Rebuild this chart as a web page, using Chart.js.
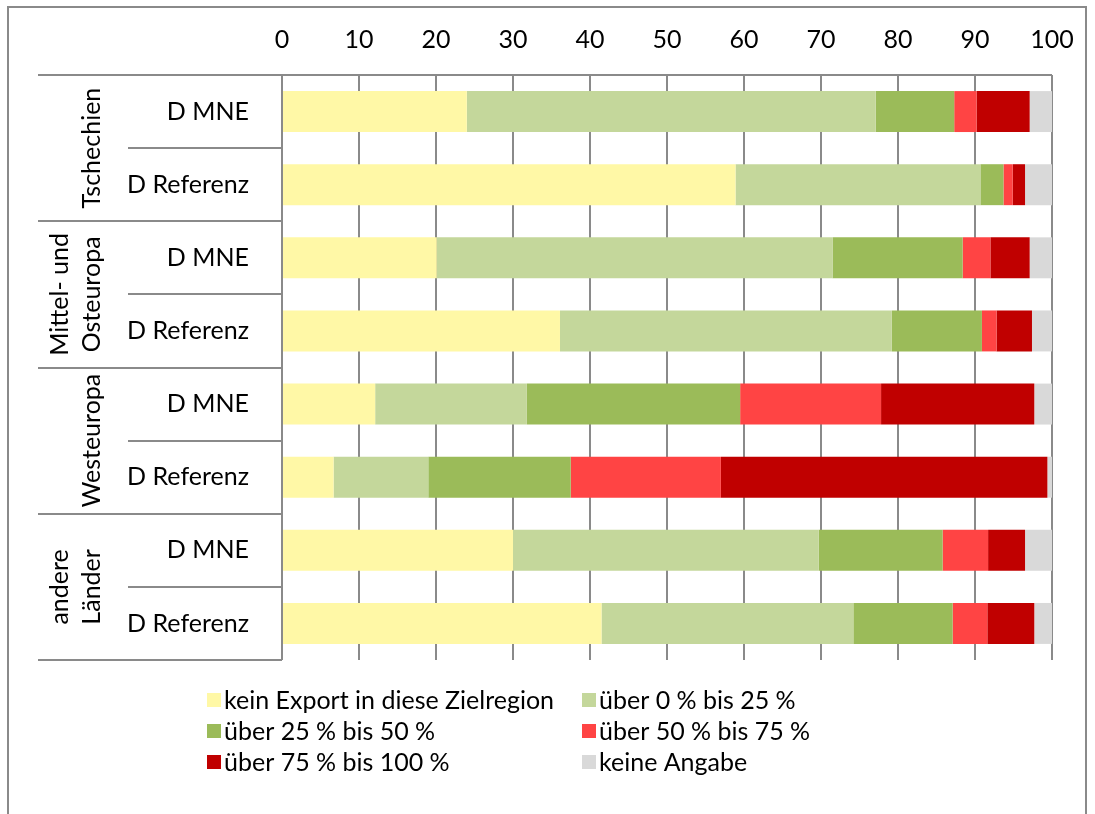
<!DOCTYPE html>
<html>
<head>
<meta charset="utf-8">
<script src="https://cdn.jsdelivr.net/npm/chart.js@4.4.1/dist/chart.umd.min.js"></script>
<style>
  html, body { margin: 0; padding: 0; background: #fff; }
  #wrap { position: relative; width: 1095px; height: 814px; overflow: hidden; }
  #frame { position: absolute; left: 7px; top: 6px; width: 1080px; height: 900px; border: 2px solid #8a8a8a; box-sizing: border-box; }
  canvas { position: absolute; left: 0; top: 0; }
</style>
</head>
<body>
<div id="wrap">
  <div id="frame"></div>
  <canvas id="chart" width="1095" height="814"></canvas>
</div>
<script>
// categories (inner level) and their groups (outer level)
const categories = ['D MNE', 'D Referenz', 'D MNE', 'D Referenz', 'D MNE', 'D Referenz', 'D MNE', 'D Referenz'];
const groups = [['Tschechien'], ['Mittel- und', 'Osteuropa'], ['Westeuropa'], ['andere', 'Länder']];
const xTicks = [0, 10, 20, 30, 40, 50, 60, 70, 80, 90, 100];

// shares in % per answer class
const keinExport = [24.0, 58.9, 20.1, 36.1, 12.1, 6.7, 30.0, 41.5];
const bis25 = [53.1, 31.8, 51.4, 43.1, 19.7, 12.3, 39.7, 32.7];
const bis50 = [10.2, 3.0, 16.9, 11.7, 27.7, 18.5, 16.1, 12.9];
const bis75 = [2.9, 1.2, 3.6, 1.9, 18.3, 19.5, 5.9, 4.5];
const bis100 = [6.9, 1.6, 5.1, 4.6, 19.9, 42.4, 4.8, 6.1];
const keineAngabe = [2.9, 3.5, 2.9, 2.6, 2.3, 0.6, 3.5, 2.3];

const seriesLabels = ['kein Export in diese Zielregion', 'über 0 % bis 25 %', 'über 25 % bis 50 %',
  'über 50 % bis 75 %', 'über 75 % bis 100 %', 'keine Angabe'];
const seriesData = [keinExport, bis25, bis50, bis75, bis100, keineAngabe];
const seriesColors = ['#FFF8A6', '#C4D79B', '#9BBB59', '#FF4444', '#C00000', '#D9D9D9'];

const FONT = 'Lato, "Open Sans", sans-serif';
const FONT_SIZE = 25;
const AXIS_GRAY = '#8a8a8a';

// multi-level category labels, separator lines and axis ticks on the left
const categoryLabels = {
  id: 'categoryLabels',
  afterDraw(chart) {
    const { ctx, chartArea, scales: { y } } = chart;
    const step = y.getPixelForValue(1) - y.getPixelForValue(0);
    const top = chartArea.top, bottom = chartArea.bottom, left = chartArea.left;
    ctx.save();
    ctx.strokeStyle = AXIS_GRAY;
    ctx.lineWidth = 2;
    // boundaries between categories
    for (let i = 0; i <= categories.length; i++) {
      const yy = Math.round(top + i * step);
      const x0 = (i % 2 === 0) ? 38 : 128;
      ctx.beginPath();
      ctx.moveTo(x0, yy);
      ctx.lineTo(left, yy);
      ctx.stroke();
    }
    // top axis line to the right end
    ctx.beginPath();
    ctx.moveTo(left, Math.round(top));
    ctx.lineTo(chartArea.right, Math.round(top));
    ctx.stroke();
    // vertical axis line
    ctx.beginPath();
    ctx.moveTo(left, top);
    ctx.lineTo(left, bottom);
    ctx.stroke();

    ctx.fillStyle = '#000';
    ctx.font = `${FONT_SIZE}px ${FONT}`;
    ctx.textAlign = 'right';
    ctx.textBaseline = 'middle';
    categories.forEach((c, i) => {
      ctx.fillText(c, 249, y.getPixelForValue(i));
    });

    // rotated group labels
    ctx.textAlign = 'center';
    groups.forEach((lines, g) => {
      const cy = (y.getPixelForValue(2 * g) + y.getPixelForValue(2 * g + 1)) / 2;
      lines.forEach((line, k) => {
        const cx = 92 - (lines.length - 1 - k) * 32;
        ctx.save();
        ctx.translate(cx, cy);
        ctx.rotate(-Math.PI / 2);
        ctx.fillText(line, 0, 0);
        ctx.restore();
      });
    });
    ctx.restore();
  }
};

// two-column legend below the plot
const gridLegend = {
  id: 'gridLegend',
  afterDraw(chart) {
    const { ctx } = chart;
    const colX = [207, 582];
    const rowY = [700, 731, 762];
    ctx.save();
    ctx.font = `${FONT_SIZE}px ${FONT}`;
    ctx.textAlign = 'left';
    ctx.textBaseline = 'middle';
    chart.data.datasets.forEach((ds, i) => {
      const x = colX[i % 2], yy = rowY[Math.floor(i / 2)];
      ctx.fillStyle = ds.backgroundColor;
      ctx.fillRect(x, yy - 7, 14, 14);
      ctx.fillStyle = '#000';
      ctx.fillText(ds.label, x + 17, yy + 1);
    });
    ctx.restore();
  }
};

new Chart(document.getElementById('chart'), {
  type: 'bar',
  data: {
    labels: categories,
    datasets: seriesLabels.map((label, i) => ({
      label,
      data: seriesData[i],
      backgroundColor: seriesColors[i],
      borderWidth: 0,
      barPercentage: 0.56,
      categoryPercentage: 1.0,
    })),
  },
  options: {
    indexAxis: 'y',
    animation: false,
    responsive: false,
    maintainAspectRatio: false,
    layout: { padding: { left: 0, top: 0, right: 43, bottom: 154 } },
    plugins: {
      legend: { display: false },
      tooltip: { enabled: false },
    },
    scales: {
      x: {
        position: 'top',
        stacked: true,
        min: 0,
        max: 100,
        afterBuildTicks(scale) { scale.ticks = xTicks.map(v => ({ value: v })); },
        afterFit(scale) { scale.height = 75; },
        grid: { color: AXIS_GRAY, lineWidth: 2, drawTicks: false },
        border: { display: false },
        ticks: {
          color: '#000',
          font: { family: FONT, size: FONT_SIZE },
          padding: 20,
          maxRotation: 0,
        },
      },
      y: {
        stacked: true,
        afterFit(scale) { scale.width = 282; },
        grid: { display: false },
        border: { display: false },
        ticks: { display: false },
      },
    },
  },
  plugins: [categoryLabels, gridLegend],
});
</script>
</body>
</html>
